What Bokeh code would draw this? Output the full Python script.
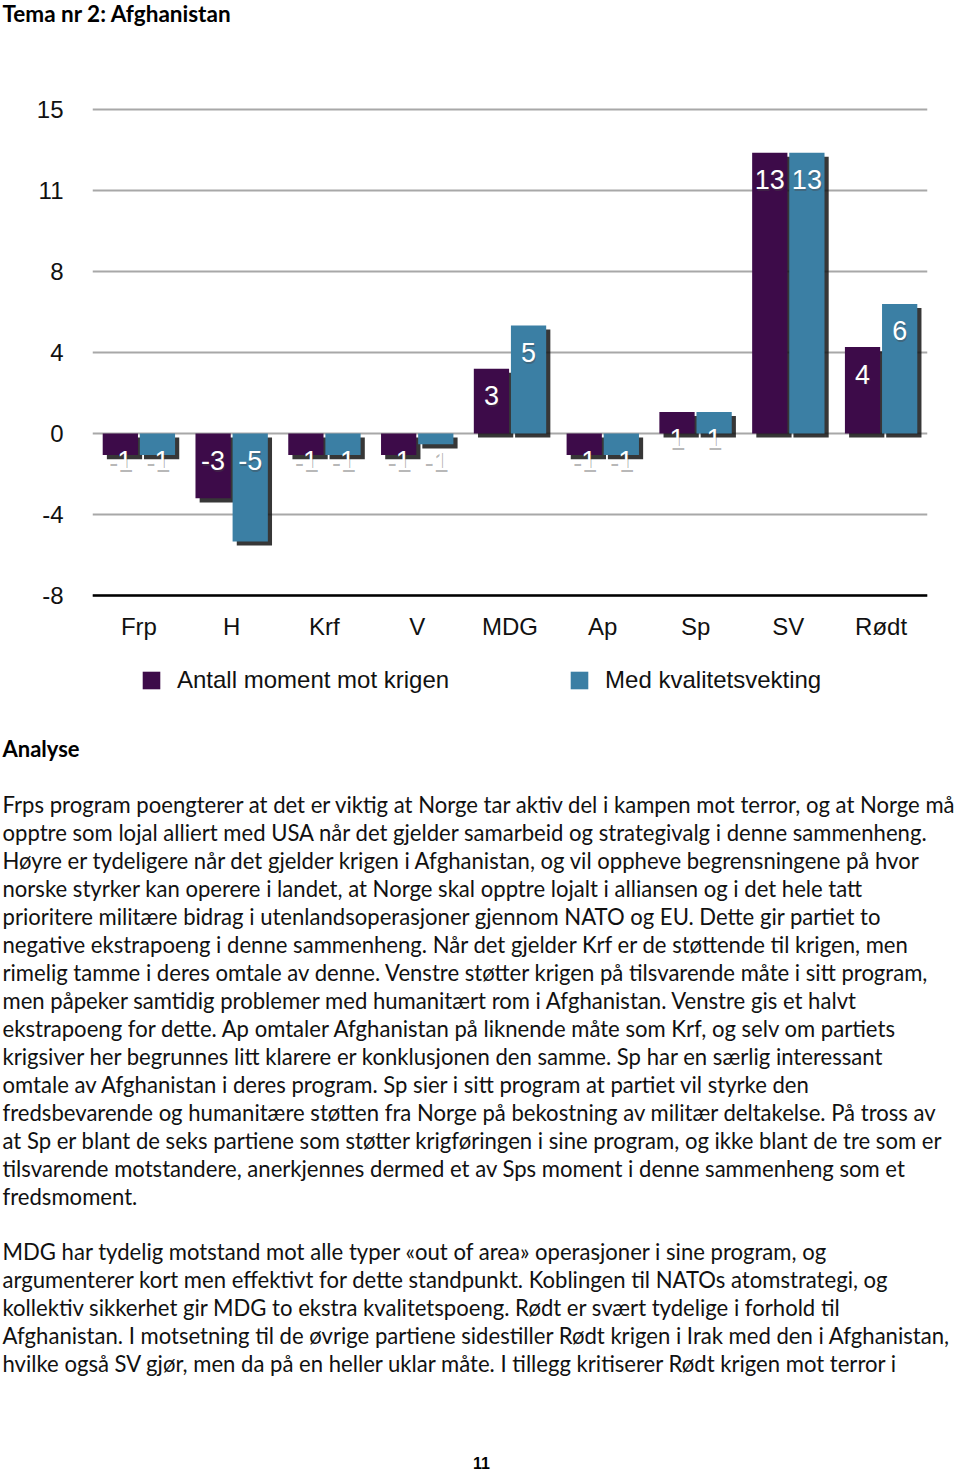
from bokeh.plotting import figure
from bokeh.models import ColumnDataSource, FactorRange, Range1d, FixedTicker, Legend, LegendItem
from bokeh.transform import dodge
from bokeh.core.properties import value
from bokeh.embed import file_html
from bokeh.resources import INLINE

# ---------------- data ----------------
parties = ["Frp", "H", "Krf", "V", "MDG", "Ap", "Sp", "SV", "Rødt"]
antall = [-1, -3, -1, -1, 3, -1, 1, 13, 4]
kvalitet = [-1, -5, -1, -0.5, 5, -1, 1, 13, 6]
antall_labels = ["-1", "-3", "-1", "-1", "3", "-1", "1", "13", "4"]
kvalitet_labels = ["-1", "-5", "-1", "-1", "5", "-1", "1", "13", "6"]
series_names = ["Antall moment mot krigen", "Med kvalitetsvekting"]
y_ticks = [-7.5, -3.75, 0, 3.75, 7.5, 11.25, 15]
y_tick_labels = ["-8", "-4", "0", "4", "8", "11", "15"]
y_min, y_max = -7.5, 15

title_text = "Tema nr 2: Afghanistan"
section_title = "Analyse"
paragraph_1 = [
    "Frps program poengterer at det er viktig at Norge tar aktiv del i kampen mot terror, og at Norge må",
    "opptre som lojal alliert med USA når det gjelder samarbeid og strategivalg i denne sammenheng.",
    "Høyre er tydeligere når det gjelder krigen i Afghanistan, og vil oppheve begrensningene på hvor",
    "norske styrker kan operere i landet, at Norge skal opptre lojalt i alliansen og i det hele tatt",
    "prioritere militære bidrag i utenlandsoperasjoner gjennom NATO og EU. Dette gir partiet to",
    "negative ekstrapoeng i denne sammenheng. Når det gjelder Krf er de støttende til krigen, men",
    "rimelig tamme i deres omtale av denne. Venstre støtter krigen på tilsvarende måte i sitt program,",
    "men påpeker samtidig problemer med humanitært rom i Afghanistan. Venstre gis et halvt",
    "ekstrapoeng for dette. Ap omtaler Afghanistan på liknende måte som Krf, og selv om partiets",
    "krigsiver her begrunnes litt klarere er konklusjonen den samme. Sp har en særlig interessant",
    "omtale av Afghanistan i deres program. Sp sier i sitt program at partiet vil styrke den",
    "fredsbevarende og humanitære støtten fra Norge på bekostning av militær deltakelse. På tross av",
    "at Sp er blant de seks partiene som støtter krigføringen i sine program, og ikke blant de tre som er",
    "tilsvarende motstandere, anerkjennes dermed et av Sps moment i denne sammenheng som et",
    "fredsmoment.",
]
paragraph_2 = [
    "MDG har tydelig motstand mot alle typer «out of area» operasjoner i sine program, og",
    "argumenterer kort men effektivt for dette standpunkt. Koblingen til NATOs atomstrategi, og",
    "kollektiv sikkerhet gir MDG to ekstra kvalitetspoeng. Rødt er svært tydelige i forhold til",
    "Afghanistan. I motsetning til de øvrige partiene sidestiller Rødt krigen i Irak med den i Afghanistan,",
    "hvilke også SV gjør, men da på en heller uklar måte. I tillegg kritiserer Rødt krigen mot terror i",
]
page_number = "11"

# ---------------- styles ----------------
PURPLE = "#3d0b49"
BLUE = "#3b7fa4"
SHADOW = "#141414"
CHART_FONT = "Liberation Sans"
BODY_FONT = "Lato"
W = 960

# ---------------- title ----------------
TT = 40
pt = figure(width=W, height=TT, x_range=Range1d(0, W), y_range=Range1d(TT, 0),
            toolbar_location=None, output_backend="svg", min_border=0)
pt.axis.visible = False
pt.grid.visible = False
pt.outline_line_color = None
pt.text(x=[2], y=[13], text=[title_text], text_font=value(BODY_FONT), text_font_style="bold",
        text_font_size="22.5px", text_baseline="middle", text_align="left", text_color="#000000")

# ---------------- chart ----------------
src = ColumnDataSource(dict(
    party=parties, a=antall, k=kvalitet,
    a_lab=antall_labels, k_lab=kvalitet_labels,
    a_y=[max(v, 0) for v in antall], k_y=[max(v, 0) for v in kvalitet],
))

PPU = 21.6            # pixels per value unit
FRAME_H = 606         # frame height in px (chart area + room for labels/legend below)
y_end = y_max + 3 / PPU
y_start = y_end - FRAME_H / PPU

p = figure(width=W, height=66 + FRAME_H, x_range=FactorRange(*parties, range_padding=0),
           y_range=Range1d(y_start, y_end),
           toolbar_location=None, output_backend="svg",
           min_border_left=92, min_border_right=W - 92 - 835, min_border_top=66, min_border_bottom=0)
p.outline_line_color = None
p.background_fill_color = "white"
p.border_fill_color = "white"

BW = 0.38
OFF = 0.2
SX = 0.045
SY = 0.19

# shadows
for col, off in (("a", -OFF), ("k", OFF)):
    p.vbar(x=dodge("party", off + SX, range=p.x_range), top=dodge(col, -SY), bottom=-SY,
           width=BW, source=src, fill_color=SHADOW, fill_alpha=0.85, line_color=None)

r_a = p.vbar(x=dodge("party", -OFF, range=p.x_range), top="a", bottom=0, width=BW,
             source=src, fill_color=PURPLE, line_color=None)
r_k = p.vbar(x=dodge("party", OFF, range=p.x_range), top="k", bottom=0, width=BW,
             source=src, fill_color=BLUE, line_color=None)

for lab, ycol, off in (("a_lab", "a_y", -OFF), ("k_lab", "k_y", OFF)):
    p.text(x=dodge("party", off, range=p.x_range), y=ycol, text=lab, source=src,
           x_offset=1, y_offset=28.5, text_align="center", text_baseline="middle",
           text_font=value(CHART_FONT), text_font_size="27px", text_color="#444444", text_alpha=0.4)
    p.text(x=dodge("party", off, range=p.x_range), y=ycol, text=lab, source=src,
           y_offset=27, text_align="center", text_baseline="middle",
           text_font=value(CHART_FONT), text_font_size="27px", text_color="white")

p.yaxis.ticker = FixedTicker(ticks=y_ticks)
p.yaxis.major_label_overrides = {t: l for t, l in zip(y_ticks, y_tick_labels)}
p.yaxis.axis_line_color = None
p.yaxis.major_tick_line_color = None
p.yaxis.minor_tick_line_color = None
p.yaxis.major_label_standoff = 23
p.yaxis.major_label_text_font = CHART_FONT
p.yaxis.major_label_text_font_size = "24px"
p.yaxis.major_label_text_color = "#111111"

p.ygrid.ticker = FixedTicker(ticks=y_ticks)
p.ygrid.grid_line_color = "#a8a8a8"
p.ygrid.grid_line_width = 2
p.xgrid.grid_line_color = None

p.xaxis.fixed_location = y_min
p.xaxis.axis_line_color = "#000000"
p.xaxis.axis_line_width = 2.5
p.xaxis.major_tick_line_color = None
p.xaxis.minor_tick_line_color = None
p.xaxis.major_label_standoff = 11
p.xaxis.major_label_text_font = CHART_FONT
p.xaxis.major_label_text_font_size = "24px"
p.xaxis.major_label_text_color = "#111111"

legend = Legend(items=[LegendItem(label=series_names[0], renderers=[r_a]),
                       LegendItem(label=series_names[1], renderers=[r_k])],
                orientation="horizontal", location=(48, 18), spacing=119,
                glyph_width=22, glyph_height=22, label_standoff=15,
                label_text_font=CHART_FONT, label_text_font_size="24px",
                label_text_color="#111111", border_line_color=None,
                background_fill_alpha=0, padding=0, margin=0)
p.add_layout(legend, "center")

# ---------------- text ----------------
TH = 1473 - TT - (66 + FRAME_H)
px = figure(width=W, height=TH, x_range=Range1d(0, W), y_range=Range1d(TH, 0),
            toolbar_location=None, output_backend="svg", min_border=0)
px.axis.visible = False
px.grid.visible = False
px.outline_line_color = None

LH = 28
px.text(x=[2], y=[36], text=[section_title], text_font=value(BODY_FONT), text_font_style="bold",
        text_font_size="22px", text_baseline="middle", text_align="left", text_color="#000000")
body_lines = paragraph_1 + paragraph_2
body_y = [92 + LH * i for i in range(len(paragraph_1))] + \
         [92 + LH * (len(paragraph_1) + 1) + LH * i - 1 for i in range(len(paragraph_2))]
px.text(x=[2] * len(body_lines), y=body_y, text=body_lines, text_font=value(BODY_FONT),
        text_font_size="22.1px", text_baseline="middle", text_align="left", text_color="#111111")
px.text(x=[481], y=[750], text=[page_number], text_font=value("Liberation Sans"),
        text_font_style="bold", text_font_size="16px", text_baseline="middle",
        text_align="center", text_color="#000000")

open("out.html", "w").write(file_html([pt, p, px], INLINE))
